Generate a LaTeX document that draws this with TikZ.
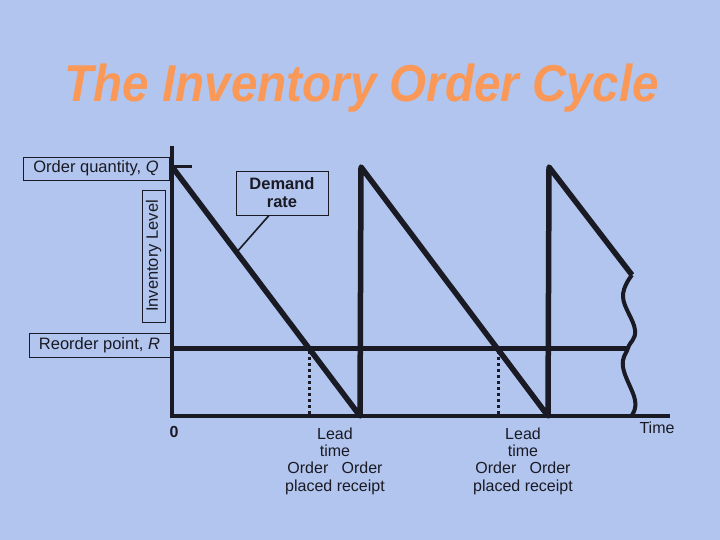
\documentclass[tikz,border=0pt]{standalone}
\usepackage{fontspec}
\setmainfont{Liberation Sans}
\usepackage{xcolor}
\usetikzlibrary{calc}
\definecolor{slidebg}{RGB}{178,197,238}
\definecolor{titleor}{RGB}{250,152,88}
\definecolor{ink}{RGB}{26,26,36}

\begin{document}
\begin{tikzpicture}[
        x=1pt, y=-1pt,
        lbl/.style={
            rectangle, draw=ink, line width=0.9pt, inner sep=0pt,
            align=center, text=ink, font=\fontsize{16.5}{17.5}\selectfont
        },
        txt/.style={inner sep=0pt, align=center, text=ink, font=\fontsize{16}{17.3}\selectfont},
        axis/.style={ink, line width=4pt},
        stock/.style={ink, line width=5.5pt, line join=round},
        rline/.style={ink, line width=5pt},
        leadline/.style={ink, line width=3pt, dash pattern=on 3pt off 3pt},
        lead/.style={ink, line width=1.6pt}
    ]
    % === Slide background ===
    \fill[slidebg] (0,0) rectangle (720,540);
    \useasboundingbox (0,0) rectangle (720,540);

    % === Title ===
    \node[inner sep=0pt, text=titleor, font=\fontsize{48}{50}\selectfont\bfseries\itshape] (title) at (362,88)
        {\scalebox{0.99}[1.08]{The Inventory Order Cycle}};

    % === Key points ===
    \coordinate (top) at (172,146);
    \coordinate (o) at (172,416);
    \coordinate (tend) at (670,416);
    \coordinate (qtick) at (192,167);
    \coordinate (q) at (173,168);
    \coordinate (b1) at (360,416);
    \coordinate (p2) at (361,167);
    \coordinate (b2) at (548,416);
    \coordinate (p3) at (549,167);
    \coordinate (cut) at (632,275);
    \coordinate (r0) at (172,348);
    \coordinate (r1) at (628,348);
    \coordinate (d1) at (309,351);
    \coordinate (d1b) at (309,416);
    \coordinate (d2) at (498,351);
    \coordinate (d2b) at (498,416);

    % === Axes ===
    \draw[axis] (top) -- (o) -- (tend);
    \draw[ink, line width=3pt] (172,167) -- (qtick);

    % === Reorder point and lead times ===
    \draw[rline] (r0) -- (r1);
    \draw[leadline] (d1) -- (d1b);
    \draw[leadline] (d2) -- (d2b);

    % === Inventory sawtooth ===
    \draw[stock] (q) -- (b1) -- (p2) -- (b2) -- (p3) -- (cut);
    \draw[ink, line width=4pt] plot[smooth, tension=0.7] coordinates
        {(cut) (623,297) (635,330) (r1) (623,367) (635,400) (632,415)};

    % === Labels ===
    \node[lbl, minimum width=146pt, minimum height=23pt] (qbox) at (96,168.5) {Order quantity, \textit{Q}};
    \node[lbl, minimum width=132pt, minimum height=23pt, rotate=90] (levbox) at (153.5,256) {Inventory Level};
    \node[lbl, minimum width=92pt, minimum height=44pt, font=\fontsize{16.5}{18}\selectfont\bfseries] (ratebox) at (282,193) {Demand\\rate};
    \node[lbl, minimum width=141pt, minimum height=24pt] (rbox) at (99.5,345) {Reorder point, \textit{R}};
    \coordinate (ratept) at ($(q)!0.34!(b1)$);
    \coordinate (ratefoot) at ($(ratebox.south)+(-13pt,0)$);
    \draw[lead] (ratefoot) -- (ratept);

    \node[txt, font=\fontsize{16}{17}\selectfont\bfseries] (zero) at (174,432) {0};
    \node[txt] (time) at (657,428) {Time};
    \node[txt] (lead1) at (335,461) {Lead\\time\\Order\ \ \ Order\\placed receipt};
    \node[txt] (lead2) at (523,461) {Lead\\time\\Order\ \ \ Order\\placed receipt};

\end{tikzpicture}
\end{document}
